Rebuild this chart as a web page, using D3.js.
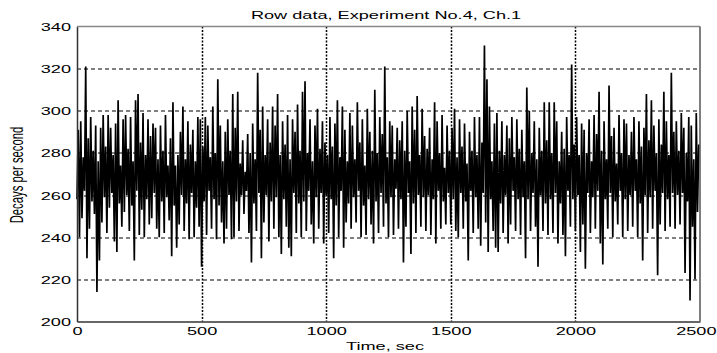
<!DOCTYPE html>
<html>
<head>
<meta charset="utf-8">
<script src="https://cdnjs.cloudflare.com/ajax/libs/d3/7.8.5/d3.min.js"></script>
<style>
  body { margin: 0; background: #fff; }
  svg { display: block; }
  text { font-family: "Liberation Sans", Arial, sans-serif; font-size: 11px; fill: #000; }
</style>
</head>
<body>
<div id="wrapper"></div>
<script>
'use strict';

//#region DATA
// sampling step of the series (sec); one value per step
const sampleStep = 5;
const xTicks = [0, 500, 1000, 1500, 2000, 2500];
const yTicks = [200, 220, 240, 260, 280, 300, 320, 340];
const titleText = 'Row data, Experiment No.4, Ch.1';
const xLabelText = 'Time, sec';
const yLabelText = 'Decays per second';

const decays = [
  258,291,240,295,249,278,262,321,230,287,244,297,257,281,251,293,214,276,229,292,
  247,298,259,283,242,298,254,292,261,279,238,294,233,305,256,274,245,296,252,298,
  260,282,243,297,255,276,229,305,262,308,241,285,253,299,240,279,258,296,246,288,
  249,294,261,292,244,277,240,293,257,281,242,298,259,274,248,287,231,304,255,274,
  235,279,246,290,260,302,243,277,256,295,239,284,261,291,240,276,254,297,245,296,
  226,283,257,297,241,293,262,278,244,302,258,280,239,315,255,293,247,276,237,290,
  244,296,260,281,239,308,240,292,257,309,243,275,260,286,251,271,262,289,242,280,
  228,294,256,277,243,318,261,291,230,302,247,279,260,296,238,285,257,302,244,293,
  259,308,240,279,232,295,258,284,245,298,235,277,231,296,261,290,242,303,256,281,
  240,309,257,314,243,280,262,296,246,276,237,293,259,301,244,282,261,295,237,285,
  260,279,242,297,258,283,230,294,255,305,240,278,262,302,235,291,247,276,256,299,
  244,293,259,277,247,304,262,285,240,296,255,274,241,301,258,290,246,281,237,310,
  257,280,242,297,261,289,245,321,256,278,240,295,259,293,241,277,263,292,244,286,
  258,295,228,281,245,300,261,276,232,302,256,291,242,307,260,279,245,301,259,288,
  243,282,260,292,241,277,258,304,237,295,262,280,244,298,257,273,246,293,261,281,
  246,292,258,301,243,278,240,296,261,283,244,294,257,275,229,290,262,281,242,297,
  259,279,244,297,236,285,261,331,247,315,233,302,258,276,243,294,235,299,233,281,
  256,295,242,279,260,293,237,287,246,297,262,278,243,296,258,282,241,291,259,276,
  230,311,258,300,243,280,261,295,245,277,226,292,260,281,243,304,256,286,241,304,
  258,280,242,304,261,295,237,276,256,290,241,282,231,297,262,279,245,322,258,284,
  243,297,260,279,233,294,246,291,225,280,261,296,242,276,259,298,244,289,262,309,
  237,281,227,295,258,277,244,312,261,288,240,292,257,275,246,298,262,280,240,296,
  258,294,243,279,260,290,245,297,262,277,240,295,256,283,229,292,260,308,242,286,
  259,305,244,293,262,280,222,296,246,284,261,309,243,295,258,279,245,318,261,290,
  244,295,260,281,246,299,261,292,223,280,257,297,210,293,245,277,220,299,252,284
];
//#endregion DATA

function drawChart () {

  //#region ACCESS DATA
  const dataset = decays.map((v, i) => ({ time: i * sampleStep, value: v }));
  const xAccessor = d => d.time;
  const yAccessor = d => d.value;
  //#endregion ACCESS DATA

  //#region CHART DIMENSIONS
  let dimensions = {
    width: 717,
    height: 353,
    margin: {top: 26.5, right: 17, bottom: 31.5, left: 77}
  };
  dimensions.plotWidth = dimensions.width - dimensions.margin.left - dimensions.margin.right;
  dimensions.plotHeight = dimensions.height - dimensions.margin.top - dimensions.margin.bottom;
  // the reference image is stretched sideways, so are its letters
  const stretch = 1.65;
  //#endregion CHART DIMENSIONS

  //#region DRAW CANVAS
  const wrapper = d3.select('#wrapper')
    .append('svg')
    .attr('width', dimensions.width)
    .attr('height', dimensions.height);

  const plot = wrapper.append('g')
    .attr('transform', `translate(${dimensions.margin.left}, ${dimensions.margin.top})`);
  //#endregion DRAW CANVAS

  //#region SCALES
  const xScale = d3.scaleLinear()
    .domain([0, 2500])
    .range([0, dimensions.plotWidth]);
  const yScale = d3.scaleLinear()
    .domain([200, 340])
    .range([dimensions.plotHeight, 0]);
  //#endregion SCALES

  //#region GRID
  const grid = plot.append('g');
  grid.selectAll('.hgrid')
    .data(yTicks.slice(1, -1))
    .join('line')
    .attr('x1', 0)
    .attr('x2', dimensions.plotWidth)
    .attr('y1', d => Math.round(yScale(d)) + 0.5)
    .attr('y2', d => Math.round(yScale(d)) + 0.5)
    .attr('stroke', '#000')
    .attr('stroke-dasharray', '4,3');
  grid.selectAll('.vgrid')
    .data(xTicks.slice(1, -1))
    .join('line')
    .attr('x1', d => Math.round(xScale(d)) + 0.5)
    .attr('x2', d => Math.round(xScale(d)) + 0.5)
    .attr('y1', 0)
    .attr('y2', dimensions.plotHeight)
    .attr('stroke', '#000')
    .attr('stroke-width', 1.5)
    .attr('stroke-dasharray', '2,1.5');
  //#endregion GRID

  //#region DRAW DATA
  const lineGenerator = d3.line()
    .x(d => xScale(xAccessor(d)))
    .y(d => yScale(yAccessor(d)));

  plot.append('path')
    .datum(dataset)
    .attr('d', lineGenerator)
    .attr('fill', 'none')
    .attr('stroke', '#000')
    .attr('stroke-width', 1.7);
  //#endregion DRAW DATA

  //#region DRAW PERIPHERALS
  const xAxis = plot.append('g')
    .attr('transform', `translate(0, ${dimensions.plotHeight})`)
    .call(d3.axisBottom(xScale).tickValues(xTicks).tickSize(0).tickPadding(0).tickFormat(d3.format('d')));
  const yAxis = plot.append('g')
    .call(d3.axisLeft(yScale).tickValues(yTicks).tickSize(0).tickPadding(0).tickFormat(d3.format('d')));

  [xAxis, yAxis].forEach(axis => {
    axis.select('.domain').attr('stroke', '#333').attr('stroke-width', 1.5);
    axis.selectAll('text').attr('font-size', null).attr('font-family', null);
  });
  xAxis.selectAll('.tick text')
    .attr('y', 0)
    .attr('dy', null)
    .attr('text-anchor', d => d === 2500 ? 'end' : 'middle')
    .attr('transform', d => d === 2500
      ? `translate(${dimensions.margin.right - 1}, 13.5) scale(${stretch}, 1)`
      : `translate(0, 13.5) scale(${stretch}, 1)`);
  yAxis.selectAll('.tick text')
    .attr('x', 0)
    .attr('dy', null)
    .attr('text-anchor', 'end')
    .attr('transform', `translate(-6, 4) scale(${stretch}, 1)`);

  // top and right edges of the box
  plot.append('line')
    .attr('x1', 0).attr('x2', dimensions.plotWidth)
    .attr('y1', 0).attr('y2', 0)
    .attr('stroke', '#888').attr('stroke-width', 1.5);
  plot.append('line')
    .attr('x1', dimensions.plotWidth).attr('x2', dimensions.plotWidth)
    .attr('y1', 0).attr('y2', dimensions.plotHeight)
    .attr('stroke', '#555').attr('stroke-width', 1.5);

  wrapper.append('text')
    .attr('text-anchor', 'middle')
    .attr('transform', `translate(386, 18.5) scale(${stretch}, 1)`)
    .text(titleText);

  wrapper.append('text')
    .attr('text-anchor', 'middle')
    .attr('transform', `translate(385, 350) scale(${stretch}, 1)`)
    .text(xLabelText);

  wrapper.append('text')
    .attr('text-anchor', 'middle')
    .attr('transform', `translate(23, 175) scale(${stretch}, 1) rotate(-90)`)
    .style('font-size', '11.3px')
    .text(yLabelText);
  //#endregion DRAW PERIPHERALS
}

drawChart();
</script>
</body>
</html>
